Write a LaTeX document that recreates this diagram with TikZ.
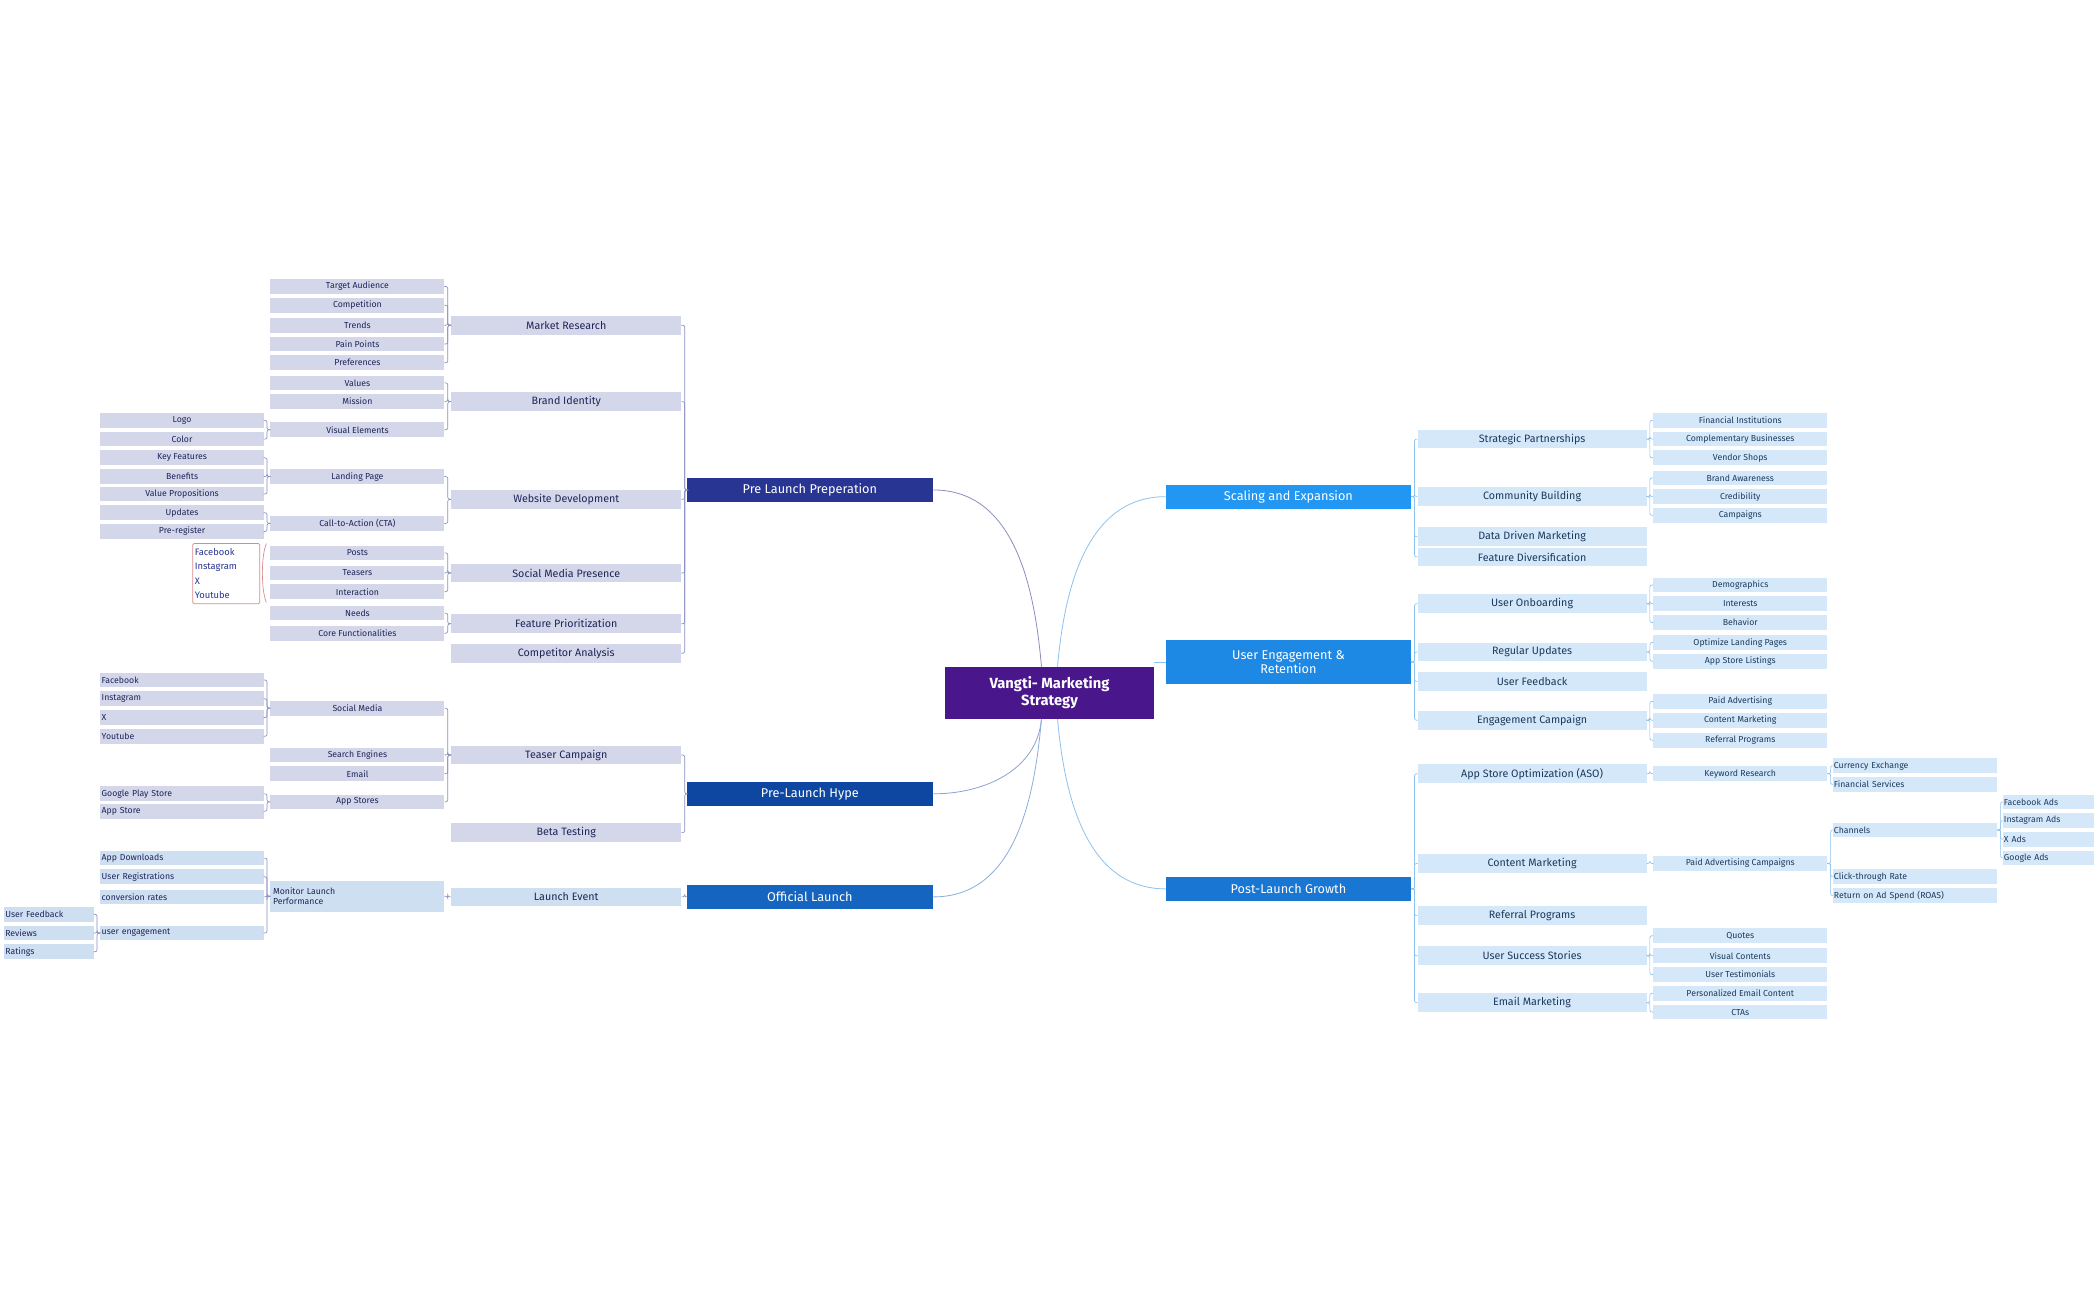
\documentclass[tikz,border=0pt]{standalone}
\usepackage{fontspec}
\setmainfont{Fira Sans}
\definecolor{lav}{HTML}{D4D6EA}
\definecolor{lblue}{HTML}{D4E8FA}
\definecolor{oblue}{HTML}{CFDFF2}
\definecolor{navy}{HTML}{1E2558}
\definecolor{bnavy}{HTML}{1B3A5C}
\definecolor{lcol}{HTML}{8A8EC0}
\definecolor{rcol}{HTML}{8CC2F0}
\definecolor{cent}{HTML}{4A168C}
\definecolor{pink}{HTML}{D9898F}
\definecolor{indig}{HTML}{283593}
\definecolor{cPH}{HTML}{0D47A1}
\definecolor{cOL}{HTML}{1565C0}
\definecolor{cSE}{HTML}{2196F3}
\definecolor{cUE}{HTML}{1E88E5}
\definecolor{cPG}{HTML}{1976D2}
\tikzset{
 base/.style={inner sep=0pt, outer sep=0pt, minimum height=11pt, font=\fontsize{6.5}{7}\selectfont},
 Lthree/.style={base, fill=lav, text=navy, minimum width=130pt},
 Lfour/.style={base, fill=lav, text=navy, minimum width=122pt},
 Lfourl/.style={Lfour, text width=120pt, align=left},
 Ltwo/.style={base, fill=lav, text=navy, minimum width=172pt, minimum height=14pt, font=\fontsize{8}{9}\selectfont},
 Otwo/.style={Ltwo, fill=oblue},
 Othree/.style={Lthree, fill=oblue},
 Ofourl/.style={Lfourl, fill=oblue},
 Ofivel/.style={base, fill=oblue, text=navy, minimum width=67pt, text width=65pt, align=left},
 Rtwo/.style={base, fill=lblue, text=bnavy, minimum width=171pt, minimum height=14pt, font=\fontsize{8}{9}\selectfont},
 Rthree/.style={base, fill=lblue, text=bnavy, minimum width=130pt},
 Rfourl/.style={base, fill=lblue, text=bnavy, minimum width=123pt, text width=121pt, align=left},
 Rfivel/.style={base, fill=lblue, text=bnavy, minimum width=68pt, text width=66pt, align=left},
 main/.style={inner sep=0pt, minimum width=184pt, minimum height=18pt, text=white, font=\fontsize{9.5}{10.5}\selectfont, align=center},
 lcon/.style={draw=lcol, line width=0.5pt, rounded corners=1.5pt},
 rcon/.style={draw=rcol, line width=0.5pt, rounded corners=1.5pt},
}
\newcommand{\mm}[5]{\node[#1] (#2) at (#3,#4) {#5};}
\newcommand{\lc}[2]{\foreach \c in {#1} \draw[lcon] (\c.east) -- ++(2.5,0) |- (#2.west);}
\newcommand{\rc}[2]{\foreach \c in {#1} \draw[rcon] (#2.east) -- ++(2.5,0) |- (\c.west);}
\begin{document}
\begin{tikzpicture}[x=1pt,y=-1pt]
\useasboundingbox[fill=white] (0,0) rectangle (1568,970);
% center
\node[fill=cent, text=white, inner sep=0pt, minimum width=156pt, minimum height=39pt, align=center, font=\fontsize{11}{13}\selectfont\bfseries] (C) at (784,517.5) {Vangti- Marketing\\Strategy};
% main branches
\node[main, fill=indig] (PL) at (605,366) {Pre Launch Preperation};
\node[main, fill=cPH] (PH) at (605,593) {Pre-Launch Hype};
\node[main, fill=cOL] (OL) at (605,670) {Official Launch};
\node[main, minimum width=183pt, fill=cSE] (SE) at (962.5,371) {Scaling and Expansion};
\node[main, minimum width=183pt, minimum height=33pt, fill=cUE] (UE) at (962.5,494.5) {User Engagement \&\\Retention};
\node[main, minimum width=183pt, fill=cPG] (PG) at (962.5,664) {Post-Launch Growth};
% curves
\draw[lcol, line width=0.6pt] (778,498) to[out=95,in=0] (PL.east);
\draw[lcol!60!rcol, line width=0.6pt] (778,537) to[out=-95,in=0] (PH.east);
\draw[lcol!40!rcol, line width=0.6pt] (778,537) to[out=-95,in=0] (OL.east);
\draw[rcol, line width=0.6pt] (790,498) to[out=85,in=180] (SE.west);
\draw[rcol, line width=0.6pt] (C.east |- UE.west) -- (UE.west);
\draw[rcol, line width=0.6pt] (790,537) to[out=-85,in=180] (PG.west);
% ---------- Pre Launch level 2
\mm{Ltwo}{MR}{423}{243}{Market Research}
\mm{Ltwo}{BI}{423}{300}{Brand Identity}
\mm{Ltwo}{WD}{423}{373}{Website Development}
\mm{Ltwo}{SM}{423}{428}{Social Media Presence}
\mm{Ltwo}{FP}{423}{466}{Feature Prioritization}
\mm{Ltwo}{CA}{423}{488}{Competitor Analysis}
\lc{MR,BI,WD,SM,FP,CA}{PL}
% level 3
\mm{Lthree}{ta}{267}{214}{Target Audience}
\mm{Lthree}{co}{267}{228}{Competition}
\mm{Lthree}{tr}{267}{243}{Trends}
\mm{Lthree}{pp}{267}{257}{Pain Points}
\mm{Lthree}{pr}{267}{271}{Preferences}
\lc{ta,co,tr,pp,pr}{MR}
\mm{Lthree}{va}{267}{286}{Values}
\mm{Lthree}{mi}{267}{300}{Mission}
\mm{Lthree}{ve}{267}{321}{Visual Elements}
\lc{va,mi,ve}{BI}
\mm{Lthree}{lp}{267}{356}{Landing Page}
\mm{Lthree}{cta}{267}{391}{Call-to-Action (CTA)}
\lc{lp,cta}{WD}
\mm{Lthree}{po}{267}{413}{Posts}
\mm{Lthree}{te}{267}{428}{Teasers}
\mm{Lthree}{in}{267}{442}{Interaction}
\lc{po,te,in}{SM}
\mm{Lthree}{ne}{267}{458}{Needs}
\mm{Lthree}{cf}{267}{473}{Core Functionalities}
\lc{ne,cf}{FP}
% level 4
\mm{Lfour}{lo}{136}{314}{Logo}
\mm{Lfour}{cl}{136}{328}{Color}
\lc{lo,cl}{ve}
\mm{Lfour}{kf}{136}{342}{Key Features}
\mm{Lfour}{be}{136}{356}{Benefits}
\mm{Lfour}{vp}{136}{369}{Value Propositions}
\lc{kf,be,vp}{lp}
\mm{Lfour}{up}{136}{383}{Updates}
\mm{Lfour}{preg}{136}{397}{Pre-register}
\lc{up,preg}{cta}
% callout
\node[draw=pink, line width=0.5pt, rounded corners=1pt, inner sep=1.5pt, align=left, text=indig, font=\fontsize{7}{10.8}\selectfont, minimum width=50pt, minimum height=45pt, text width=47pt] (callout) at (169,428.5) {Facebook\\Instagram\\X\\Youtube};
\draw[pink, line width=0.5pt] (199,406) .. controls (195,415) and (195,441) .. (199,450);
% ---------- Hype
\mm{Ltwo}{TC}{423}{564}{Teaser Campaign}
\mm{Ltwo}{BT}{423}{622}{Beta Testing}
\lc{TC,BT}{PH}
\mm{Lthree}{smd}{267}{529}{Social Media}
\mm{Lthree}{se}{267}{564}{Search Engines}
\mm{Lthree}{em}{267}{578}{Email}
\mm{Lthree}{as}{267}{599}{App Stores}
\lc{smd,se,em,as}{TC}
\mm{Lfourl}{fb}{136}{508}{Facebook}
\mm{Lfourl}{ig}{136}{522}{Instagram}
\mm{Lfourl}{xx}{136}{536}{X}
\mm{Lfourl}{yt}{136}{550}{Youtube}
\lc{fb,ig,xx,yt}{smd}
\mm{Lfourl}{gp}{136}{593}{Google Play Store}
\mm{Lfourl}{ap}{136}{606}{App Store}
\lc{gp,ap}{as}
% ---------- Official
\mm{Otwo}{LE}{423}{670}{Launch Event}
\lc{LE}{OL}
\node[Othree, minimum height=23pt, text width=126pt, align=left, font=\fontsize{6.5}{8}\selectfont] (mlp) at (267,669.5) {Monitor Launch\\Performance};
\lc{mlp}{LE}
\mm{Ofourl}{ad}{136}{641}{App Downloads}
\mm{Ofourl}{ur}{136}{655}{User Registrations}
\mm{Ofourl}{cr}{136}{670}{conversion rates}
\mm{Ofourl}{ue}{136}{697}{user engagement}
\lc{ad,ur,cr,ue}{mlp}
\mm{Ofivel}{uf}{36.5}{683}{User Feedback}
\mm{Ofivel}{rv}{36.5}{697}{Reviews}
\mm{Ofivel}{ra}{36.5}{711}{Ratings}
\lc{uf,rv,ra}{ue}
% ---------- Right: Scaling
\mm{Rtwo}{SP}{1144.5}{328}{Strategic Partnerships}
\mm{Rtwo}{CB}{1144.5}{371}{Community Building}
\mm{Rtwo}{DD}{1144.5}{401}{Data Driven Marketing}
\mm{Rtwo}{FD}{1144.5}{416}{Feature Diversification}
\rc{SP,CB,DD,FD}{SE}
\mm{Rthree}{fi}{1300}{314}{Financial Institutions}
\mm{Rthree}{cbz}{1300}{328}{Complementary Businesses}
\mm{Rthree}{vs}{1300}{342}{Vendor Shops}
\rc{fi,cbz,vs}{SP}
\mm{Rthree}{ba}{1300}{357}{Brand Awareness}
\mm{Rthree}{cred}{1300}{371}{Credibility}
\mm{Rthree}{camp}{1300}{385}{Campaigns}
\rc{ba,cred,camp}{CB}
% User engagement
\mm{Rtwo}{UO}{1144.5}{451}{User Onboarding}
\mm{Rtwo}{RU}{1144.5}{487}{Regular Updates}
\mm{Rtwo}{UF}{1144.5}{509}{User Feedback}
\mm{Rtwo}{EC}{1144.5}{538}{Engagement Campaign}
\rc{UO,RU,UF,EC}{UE}
\mm{Rthree}{dem}{1300}{437}{Demographics}
\mm{Rthree}{int}{1300}{451}{Interests}
\mm{Rthree}{beh}{1300}{465}{Behavior}
\rc{dem,int,beh}{UO}
\mm{Rthree}{olp}{1300}{480}{Optimize Landing Pages}
\mm{Rthree}{asl}{1300}{494}{App Store Listings}
\rc{olp,asl}{RU}
\mm{Rthree}{pa}{1300}{524}{Paid Advertising}
\mm{Rthree}{cm}{1300}{538}{Content Marketing}
\mm{Rthree}{rp}{1300}{553}{Referral Programs}
\rc{pa,cm,rp}{EC}
% Post-launch
\mm{Rtwo}{ASO}{1144.5}{578}{App Store Optimization (ASO)}
\mm{Rtwo}{CM}{1144.5}{645}{Content Marketing}
\mm{Rtwo}{RP}{1144.5}{684}{Referral Programs}
\mm{Rtwo}{US}{1144.5}{714}{User Success Stories}
\mm{Rtwo}{EM}{1144.5}{749}{Email Marketing}
\rc{ASO,CM,RP,US,EM}{PG}
\mm{Rthree}{kr}{1300}{578}{Keyword Research}
\rc{kr}{ASO}
\mm{Rthree}{pac}{1300}{645}{Paid Advertising Campaigns}
\rc{pac}{CM}
\mm{Rthree}{qu}{1300}{699}{Quotes}
\mm{Rthree}{vc}{1300}{714}{Visual Contents}
\mm{Rthree}{ut}{1300}{728}{User Testimonials}
\rc{qu,vc,ut}{US}
\mm{Rthree}{pec}{1300}{742}{Personalized Email Content}
\mm{Rthree}{ctas}{1300}{756}{CTAs}
\rc{pec,ctas}{EM}
\mm{Rfourl}{cex}{1430.5}{572}{Currency Exchange}
\mm{Rfourl}{fs}{1430.5}{586}{Financial Services}
\rc{cex,fs}{kr}
\mm{Rfourl}{ch}{1430.5}{620}{Channels}
\mm{Rfourl}{ctr}{1430.5}{655}{Click-through Rate}
\mm{Rfourl}{roas}{1430.5}{669}{Return on Ad Spend (ROAS)}
\rc{ch,ctr,roas}{pac}
\mm{Rfivel}{fa}{1530}{599}{Facebook Ads}
\mm{Rfivel}{ia}{1530}{613}{Instagram Ads}
\mm{Rfivel}{xa}{1530}{627}{X Ads}
\mm{Rfivel}{ga}{1530}{641}{Google Ads}
\rc{fa,ia,xa,ga}{ch}
\end{tikzpicture}
\end{document}
